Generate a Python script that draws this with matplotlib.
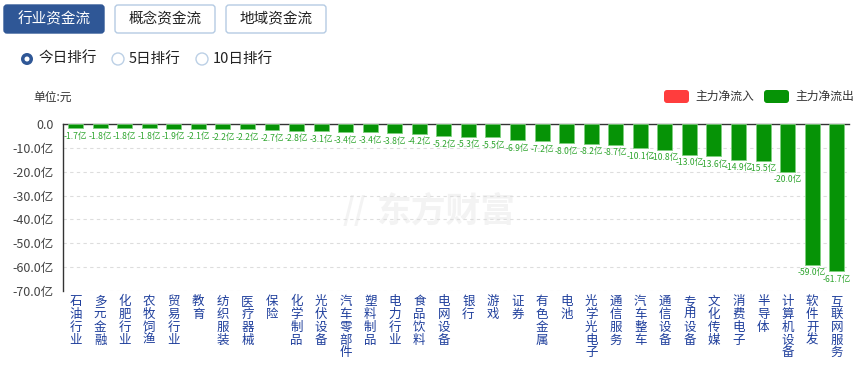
import matplotlib.pyplot as plt
from matplotlib.patches import FancyBboxPatch, Circle

plt.rcParams['font.family'] = ['Noto Sans CJK SC', 'DejaVu Sans']

# industry names and main-force net flow (亿元)
industries = ['石油行业', '多元金融', '化肥行业', '农牧饲渔', '贸易行业', '教育', '纺织服装',
              '医疗器械', '保险', '化学制品', '光伏设备', '汽车零部件', '塑料制品', '电力行业',
              '食品饮料', '电网设备', '银行', '游戏', '证券', '有色金属', '电池', '光学光电子',
              '通信服务', '汽车整车', '通信设备', '专用设备', '文化传媒', '消费电子', '半导体',
              '计算机设备', '软件开发', '互联网服务']
net_flow = [-1.7, -1.8, -1.8, -1.8, -1.9, -2.1, -2.2, -2.2, -2.7, -2.8, -3.1, -3.4, -3.4, -3.8,
            -4.2, -5.2, -5.3, -5.5, -6.9, -7.2, -8.0, -8.2, -8.7, -10.1, -10.8, -13.0, -13.6,
            -14.9, -15.5, -20.0, -59.0, -61.7]
yticks = [0, -10, -20, -30, -40, -50, -60, -70]

W, H = 861, 369
fig = plt.figure(figsize=(W / 100, H / 100), dpi=100)

# overlay in pixel coords for the page widgets
deco = fig.add_axes([0, 0, 1, 1])
deco.set_xlim(0, W)
deco.set_ylim(H, 0)
deco.axis('off')

GREEN = '#069306'
RED = '#ff3d3d'

# tab buttons
tabs = [('行业资金流', 4, True), ('概念资金流', 115, False), ('地域资金流', 226, False)]
for name, x0, active in tabs:
    box = FancyBboxPatch((x0, 5), 100, 28, boxstyle='round,pad=0,rounding_size=3',
                         fc='#2f5796' if active else 'white',
                         ec='#2f5796' if active else '#b5cbe3', lw=1)
    deco.add_patch(box)
    deco.text(x0 + 50, 19.5, name, ha='center', va='center', fontsize=10.5,
              color='white' if active else '#222222')

# radio buttons
radios = [('今日排行', 27, True), ('5日排行', 118, False), ('10日排行', 202, False)]
for name, cx, sel in radios:
    if sel:
        deco.add_patch(Circle((cx, 59), 6, fc='#2f5796', ec='none'))
        deco.add_patch(Circle((cx, 59), 2.5, fc='white', ec='none'))
    else:
        deco.add_patch(Circle((cx, 59), 6, fc='white', ec='#bcd0e6', lw=1))
    deco.text(cx + 11, 59, name, ha='left', va='center', fontsize=10.5, color='#222222')

deco.text(33, 97, '单位:元', ha='left', va='center', fontsize=8.5, color='#333333')

# legend
for lx, col, lab in [(664, RED, '主力净流入'), (764, GREEN, '主力净流出')]:
    deco.add_patch(FancyBboxPatch((lx, 90), 25, 13, boxstyle='round,pad=0,rounding_size=3',
                                  fc=col, ec='none'))
    deco.text(lx + 31, 96.5, lab, ha='left', va='center', fontsize=8.5, color='#333333')

# watermark
deco.text(446, 211, '东方财富', ha='center', va='center', fontsize=25, fontweight='bold',
          color='#f3f3f3')
deco.text(354, 211, '//', ha='center', va='center', fontsize=22, fontweight='bold',
          color='#f3f3f3', style='italic')

ax = fig.add_axes([63.3 / W, 1 - 291 / H, (849 - 63.3) / W, (291 - 124) / H])
ax.patch.set_alpha(0)
x = list(range(len(industries)))
ax.bar(x, net_flow, width=0.61, color=GREEN, edgecolor='#7fd07f', linewidth=0.6, zorder=3)
for xi, v in zip(x, net_flow):
    ax.annotate(f'{v:.1f}亿', (xi, v), xytext=(0, -2.5), textcoords='offset points',
                ha='center', va='top', fontsize=6.2, color='#2ea52e', zorder=4)

ax.set_xlim(-0.5, len(industries) - 0.5)
ax.set_ylim(-70, 0)
ax.set_yticks(yticks)
ax.set_yticklabels(['0.0'] + [f'{t:.1f}亿' for t in yticks[1:]], fontsize=9, color='#444444')
ax.set_xticks(x)
ax.set_xticklabels(['\n'.join(n) for n in industries], fontsize=9, color='#1f3f9c',
                   linespacing=0.98, va='top')
ax.tick_params(axis='x', length=0, pad=3)
ax.tick_params(axis='y', length=0, pad=7)
ax.grid(axis='y', ls=(0, (3, 3)), color='#dddddd', lw=0.8, zorder=0)
for s in ['right', 'bottom']:
    ax.spines[s].set_visible(False)
ax.spines['left'].set_color('#333333')
ax.spines['top'].set_color('#333333')
ax.spines['left'].set_linewidth(1)
ax.spines['top'].set_linewidth(1)

fig.savefig('out.png', dpi=100)
